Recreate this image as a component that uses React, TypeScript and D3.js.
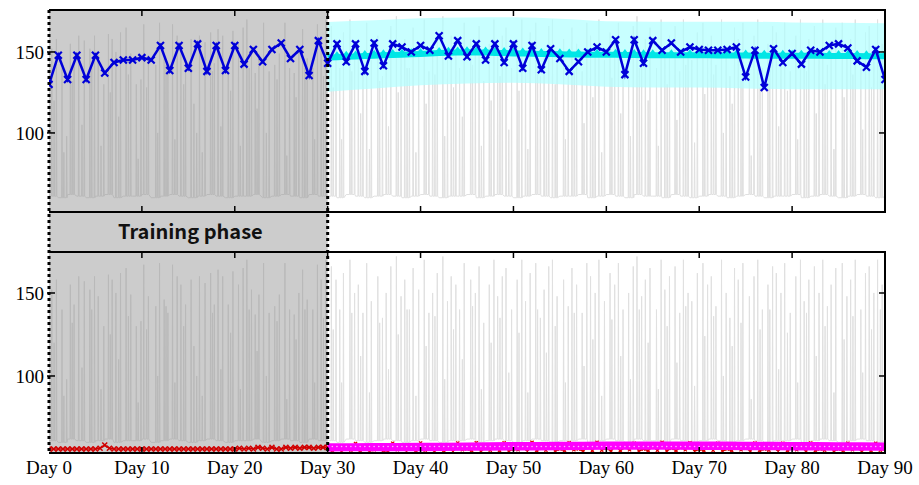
import React, { useEffect } from 'react';
import * as d3 from 'd3';

// daily observed values (top panel, blue), day 0..90
const blueValues = [
  130, 148, 133, 148, 133, 148, 137, 143.5, 145, 145,
  146.5, 145, 154, 138.5, 154, 140, 155, 138, 154, 138.5,
  154, 142.5, 151.5, 144, 151.5, 155.5, 146, 151.5, 135.5, 157,
  143, 155, 144, 155, 138, 155.5, 141.5, 155, 153, 150,
  154, 151, 160, 147.5, 157, 147, 155, 145, 155, 143.5,
  155, 140, 154, 139, 152, 146, 138, 144, 150, 153,
  150, 157.5, 136, 157.5, 143, 157, 151, 155.5, 150, 153,
  151.5, 151, 151, 151.5, 153, 134.5, 151, 128, 152, 143.5,
  149, 142.5, 151, 150, 154, 155, 152.5, 144.5, 140.5, 151.5,
  133,
];

// forecast mean (cyan), day 30..90
const cyanValues = [
  146.5, 146.8, 147, 147.2, 147.5, 147.6, 147.9, 148.1, 148.3, 148.6,
  148.8, 149, 149.3, 149.5, 149.7, 149.8, 149.7, 149.6, 149.4, 149.3,
  149.1, 149, 148.9, 148.8, 148.7, 148.6, 148.5, 148.4, 148.3, 148.3,
  148.2, 148.2, 148.1, 148.1, 148, 148, 148, 148, 147.9, 147.9,
  147.9, 147.9, 147.8, 147.8, 147.8, 147.8, 147.7, 147.7, 147.7, 147.7,
  147.6, 147.6, 147.6, 147.6, 147.5, 147.5, 147.5, 147.5, 147.4, 147.4,
  147.4,
];

// forecast interval (light cyan), every 5 days from day 30
const bandDays = [30, 35, 40, 45, 50, 55, 60, 65, 70, 75, 80, 85, 90];
const cyanUpper = [168.5, 169.5, 170.8, 171.2, 171.4, 170.5, 169, 168.7, 168.7, 168.7, 168.2, 168, 167.7];
const cyanLower = [125.5, 127.5, 129.5, 130.5, 131, 130, 128.5, 128, 128, 127.5, 127, 127, 127];

// bottom panel: observed (red), every half day 0..30 then 30.5..90
const redTrain = [
  56, 56, 56, 56, 56, 56, 56, 56, 56, 56,
  56, 56.5, 58.4, 56.5, 56, 56, 56, 56, 56, 56,
  56, 56, 56, 56, 56, 56, 56, 56, 56, 56,
  56, 56, 56, 56, 56, 56, 56, 56, 56, 56,
  56, 56.5, 56, 56.5, 56, 57, 56.5, 56, 57, 56,
  56, 57, 56.5, 57, 56.5, 57, 57, 56.5, 57, 57,
  57,
];
const redTest = [
  55, 56, 54.8, 57, 55.2, 59.3, 55, 56.5, 54.8, 55.5,
  57, 55, 54.8, 59.5, 55.5, 56, 54.7, 57.5, 55, 59.6,
  55.2, 56, 54.8, 58, 55, 57, 54.6, 59.6, 55.5, 56,
  55, 59.8, 54.8, 56.5, 55.2, 57.5, 55, 59.7, 54.8, 56,
  55.5, 57, 54.7, 60, 55, 56.5, 55.2, 58.5, 54.8, 56,
  55, 59.8, 55.5, 56, 54.8, 57.5, 55, 60, 55.2, 56.5,
  54.8, 58, 55, 57, 55.5, 59.5, 54.8, 56, 55, 57.5,
  55.2, 60, 54.8, 56.5, 55, 57, 55.5, 59.8, 54.7, 56,
  55, 57.5, 55.2, 59.5, 54.8, 56, 55, 58, 55.5, 56.5,
  54.8, 59.6, 55, 56, 55.2, 57, 54.7, 59.5, 55, 56.5,
  55.5, 57, 54.8, 59.6, 55, 56, 55.2, 58.5, 54.8, 56,
  55, 59.5, 55.5, 56.5, 54.8, 57, 55, 59.4, 55.2, 56,
];

// forecast (magenta), every 5 days from day 30
const magentaUpper = [59.4, 59.6, 59.8, 60, 60.2, 60.4, 60.6, 60.6, 60.5, 60.4, 60.2, 60.1, 60];
const magentaLower = [54.5, 54.6, 54.7, 54.9, 55.1, 55.3, 55.5, 55.5, 55.4, 55.3, 55.1, 55, 54.9];

// raw signal (gray): daily baseline + spikes [day, peak]
const baseline = [
  61, 60, 62, 61, 60, 61, 62, 60, 61, 61,
  62, 60, 61, 62, 61, 60, 61, 62, 61, 60,
  61, 61, 62, 60, 61, 62, 61, 60, 62, 61,
  61, 60, 62, 61, 60, 61, 62, 61, 60, 61,
  62, 61, 60, 61, 61, 62, 60, 61, 62, 61,
  60, 61, 62, 61, 60, 61, 61, 62, 60, 61,
  62, 61, 60, 62, 61, 61, 60, 62, 61, 60,
  61, 62, 61, 60, 61, 62, 61, 60, 61, 61,
  62, 60, 61, 62, 61, 60, 61, 62, 61, 60,
  61,
];
const spikes: [number, number][] = [
  [0.3, 152], [0.8, 158], [1.4, 140], [1.9, 98], [2.3, 155], [2.7, 143], [3.2, 160], [3.8, 157],
  [4.4, 152], [4.9, 160], [5.3, 148], [5.9, 130], [6.4, 161], [6.8, 158], [7.2, 150], [7.7, 162],
  [8.3, 165], [8.8, 149], [9.4, 130], [9.9, 133], [10.2, 167], [10.7, 148], [11.5, 142], [11.9, 168],
  [12.4, 146], [12.8, 138], [13.3, 167], [13.8, 160], [14.2, 155], [14.7, 143], [15.3, 158], [15.9, 100],
  [16.2, 160], [16.8, 156], [17.4, 162], [17.8, 143], [18.2, 164], [18.7, 160], [19.3, 143], [19.8, 163],
  [20.4, 155], [20.9, 165], [21.3, 170], [21.8, 152], [22.2, 137], [22.6, 149], [23.1, 168], [23.7, 138],
  [24.3, 142], [24.8, 149], [25.4, 168], [25.9, 140], [26.4, 137], [26.9, 150], [27.3, 164], [27.8, 146],
  [28.4, 140], [28.9, 167], [29.3, 158], [29.8, 170],
  [30.4, 166], [30.9, 158], [31.3, 140], [31.7, 162], [32.4, 170], [32.9, 150], [33.3, 155], [33.8, 138],
  [34.2, 168], [34.7, 145], [35.4, 160], [35.9, 135], [36.3, 150], [36.8, 166], [37.4, 172], [37.9, 148],
  [38.3, 158], [38.8, 140], [39.2, 165], [39.8, 152], [40.4, 170], [40.9, 138], [41.3, 150], [41.8, 162],
  [42.4, 172], [42.9, 145], [43.3, 160], [43.8, 155], [44.2, 140], [44.7, 168], [45.4, 158], [45.9, 150],
  [46.3, 166], [46.8, 132], [47.4, 155], [47.9, 170], [48.3, 148], [48.8, 160], [49.2, 165], [49.8, 140],
  [50.4, 158], [50.9, 170], [51.3, 145], [51.8, 162], [52.4, 168], [52.9, 135], [53.3, 152], [53.8, 166],
  [54.2, 170], [54.7, 148], [55.4, 158], [55.9, 142], [56.3, 165], [56.8, 155], [57.4, 138], [57.9, 168],
  [58.3, 160], [58.8, 150], [59.2, 170], [59.8, 145], [60.4, 162], [60.9, 155], [61.3, 168], [61.8, 140],
  [62.4, 150], [62.9, 166], [63.3, 172], [63.8, 148], [64.2, 158], [64.7, 165], [65.4, 140], [65.9, 170],
  [66.3, 152], [66.8, 160], [67.4, 166], [67.9, 138], [68.3, 170], [68.8, 150], [69.2, 145], [69.8, 162],
  [70.4, 168], [70.9, 155], [71.3, 160], [71.8, 142], [72.4, 170], [72.9, 150], [73.3, 135], [73.8, 165],
  [74.2, 158], [74.7, 168], [75.4, 148], [75.9, 160], [76.3, 170], [76.8, 140], [77.4, 155], [77.9, 166],
  [78.3, 162], [78.8, 150], [79.2, 168], [79.8, 138], [80.4, 160], [80.9, 170], [81.3, 145], [81.8, 158],
  [82.4, 166], [82.9, 150], [83.3, 170], [83.8, 142], [84.2, 155], [84.7, 165], [85.4, 168], [85.9, 148],
  [86.3, 158], [86.8, 170], [87.4, 140], [87.9, 162], [88.3, 166], [88.8, 150], [89.2, 170], [89.7, 155],
];
// smaller excursions of the raw signal [day, peak]
const minorSpikes: [number, number][] = [
  [0.55, 120], [1.6, 88], [2.5, 132], [3.55, 105], [4.6, 140], [5.6, 92], [6.6, 125], [7.5, 110],
  [8.55, 136], [9.6, 84], [10.5, 128], [11.7, 100], [12.6, 142], [13.55, 96], [14.5, 130], [15.6, 118],
  [16.5, 88], [17.6, 138], [18.5, 104], [19.55, 126], [20.6, 92], [21.55, 140], [22.4, 115], [23.4, 100],
  [24.55, 133], [25.6, 86], [26.6, 122], [27.55, 140], [28.6, 96], [29.55, 135],
  [30.6, 128], [31.5, 96], [32.6, 138], [33.55, 112], [34.5, 90], [35.6, 132], [36.55, 104], [37.6, 125],
  [38.55, 140], [39.5, 88], [40.6, 118], [41.55, 136], [42.6, 98], [43.55, 128], [44.5, 110], [45.6, 142],
  [46.55, 92], [47.6, 120], [48.55, 135], [49.5, 102], [50.6, 126], [51.55, 90], [52.6, 140], [53.55, 114],
  [54.5, 130], [55.6, 96], [56.55, 138], [57.6, 106], [58.55, 122], [59.5, 88], [60.6, 134], [61.55, 112],
  [62.6, 98], [63.55, 140], [64.5, 120], [65.6, 92], [66.55, 130], [67.6, 108], [68.55, 142], [69.5, 94],
  [70.6, 124], [71.55, 136], [72.6, 100], [73.55, 118], [74.5, 132], [75.6, 86], [76.55, 128], [77.6, 140],
  [78.55, 104], [79.5, 126], [80.6, 96], [81.55, 138], [82.6, 112], [83.55, 130], [84.5, 90], [85.6, 122],
  [86.55, 136], [87.6, 102], [88.55, 128], [89.5, 140],
];

const dayTicks = [0, 10, 20, 30, 40, 50, 60, 70, 80, 90];
const valueTicks = [100, 150];
const trainEnd = 30;

const W = 919;
const H = 485;
const left = 49;
const right = 885;
const top1 = 10, bottom1 = 212;
const top2 = 252, bottom2 = 453;

const serif = '"Liberation Serif", "Times New Roman", serif';

function xMark(cx: number, cy: number, s: number) {
  return `M${cx - s},${cy - s}L${cx + s},${cy + s}M${cx - s},${cy + s}L${cx + s},${cy - s}`;
}

export default function App() {
  useEffect(() => {
    document.body.style.margin = '0';
  }, []);

  const x = d3.scaleLinear().domain([0, 90]).range([left, right]);
  const yTop = d3.scaleLinear().domain([51.2, 175.9]).range([bottom1, top1]);
  const yBot = d3.scaleLinear().domain([53.6, 174.7]).range([bottom2, top2]);

  // raw gray signal
  const raw: [number, number][] = baseline.map((v, i) => [i, v] as [number, number]);
  [...spikes, ...minorSpikes].forEach(([t, p]) => {
    const b = baseline[Math.floor(t)];
    raw.push([t - 0.04, b], [t, p], [t + 0.04, b]);
  });
  raw.sort((a, b) => a[0] - b[0]);

  const rawLine = (y: d3.ScaleLinear<number, number>) =>
    d3.line<[number, number]>().x(d => x(d[0])).y(d => y(d[1]))(raw) || '';

  const blue = blueValues.map((v, i) => [i, v] as [number, number]);
  const cyan = cyanValues.map((v, i) => [30 + i, v] as [number, number]);
  const redT = redTrain.map((v, i) => [i * 0.5, v] as [number, number]);
  const redF = redTest.map((v, i) => [30.5 + i * 0.5, v] as [number, number]);
  const red = [...redT, ...redF];

  const lineTop = d3.line<[number, number]>().x(d => x(d[0])).y(d => yTop(d[1]));
  const lineBot = d3.line<[number, number]>().x(d => x(d[0])).y(d => yBot(d[1]));

  const cyanBand = d3
    .area<number>()
    .x((_, i) => x(bandDays[i]))
    .y0((_, i) => yTop(cyanLower[i]))
    .y1((_, i) => yTop(cyanUpper[i]))
    .curve(d3.curveMonotoneX)(bandDays) || '';

  const magentaBand = d3
    .area<number>()
    .x((_, i) => x(bandDays[i]))
    .y0((_, i) => yBot(magentaLower[i]))
    .y1((_, i) => yBot(magentaUpper[i]))
    .curve(d3.curveMonotoneX)(bandDays) || '';

  const xTrain = x(trainEnd);

  const panelFrame = (y0: number, y1: number, y: d3.ScaleLinear<number, number>) => (
    <g>
      {dayTicks.slice(1, -1).map(d => (
        <g key={d}>
          <line x1={x(d)} x2={x(d)} y1={y0} y2={y0 + 6} stroke="#000" strokeWidth={1.5} />
          <line x1={x(d)} x2={x(d)} y1={y1} y2={y1 - 6} stroke="#000" strokeWidth={1.5} />
        </g>
      ))}
      {valueTicks.map(v => (
        <g key={v}>
          <line x1={left - 2} x2={left + 6} y1={y(v)} y2={y(v)} stroke="#000" strokeWidth={1.5} />
          <line x1={right} x2={right - 6} y1={y(v)} y2={y(v)} stroke="#000" strokeWidth={1.5} />
          <text x={left - 5} y={y(v)} dy="0.35em" textAnchor="end" fontFamily={serif} fontSize={19}>
            {v}
          </text>
        </g>
      ))}
      <line x1={left} x2={right + 1} y1={y0} y2={y0} stroke="#000" strokeWidth={2} />
      <line x1={left} x2={right + 1} y1={y1} y2={y1} stroke="#000" strokeWidth={2} />
      <line x1={right} x2={right} y1={y0} y2={y1} stroke="#000" strokeWidth={2} />
    </g>
  );

  return (
    <svg width={W} height={H} style={{ display: 'block', background: '#fff' }}>
      <defs>
        <clipPath id="clipTop">
          <rect x={left} y={top1} width={right - left} height={bottom1 - top1} />
        </clipPath>
        <clipPath id="clipBot">
          <rect x={left} y={top2} width={right - left} height={bottom2 - top2} />
        </clipPath>
      </defs>

      {/* raw signal */}
      <path d={rawLine(yTop)} fill="none" stroke="#e0e0e0" strokeWidth={1} clipPath="url(#clipTop)" />
      <path d={rawLine(yBot)} fill="none" stroke="#e0e0e0" strokeWidth={1} clipPath="url(#clipBot)" />

      {/* training phase shading */}
      <rect x={left} y={top1} width={xTrain - left} height={bottom2 - top1} fill="#808080" fillOpacity={0.4} />

      {/* top panel */}
      <g clipPath="url(#clipTop)">
        <path d={cyanBand} fill="#b0ffff" fillOpacity={0.7} />
        <path d={lineTop(cyan) || ''} fill="none" stroke="#00e6e6" strokeWidth={6} />
        {cyan.map(([d, v]) => (
          <path
            key={d}
            d={`M${x(d) - 3},${yTop(v) - 2}L${x(d)},${yTop(v) - 6}L${x(d) + 3},${yTop(v) - 2}Z`}
            fill="#00e6e6"
          />
        ))}
        <path d={lineTop(blue) || ''} fill="none" stroke="#0000d8" strokeWidth={2.5} />
        {blue.map(([d, v]) => (
          <path key={d} d={xMark(x(d), yTop(v), 3.5)} stroke="#0000d8" strokeWidth={2.2} />
        ))}
      </g>

      {/* bottom panel */}
      <g clipPath="url(#clipBot)">
        <path d={lineBot(red) || ''} fill="none" stroke="#d00000" strokeWidth={1.5} />
        {redT.map(([d, v]) => (
          <path key={d} d={xMark(x(d), yBot(v), 2.5)} stroke="#d00000" strokeWidth={1.5} />
        ))}
        {redF.map(([d, v]) => (
          <path key={d} d={xMark(x(d), yBot(v), 1.6)} stroke="#e00000" strokeWidth={1.2} />
        ))}
        <path d={magentaBand} fill="#ff00ff" />
        {redF.map(([d]) => (
          <circle key={d} cx={x(d)} cy={yBot(57.5)} r={0.8} fill="#ffb0ff" />
        ))}
      </g>

      {panelFrame(top1, bottom1, yTop)}
      {panelFrame(top2, bottom2, yBot)}

      {/* training phase label */}
      <text
        x={(left + xTrain) / 2 + 2}
        y={(bottom1 + top2) / 2}
        dy="0.36em"
        textAnchor="middle"
        fontFamily='"Noto Sans CJK JP", "Noto Sans", sans-serif'
        fontWeight="bold"
        fontSize={20}
        fill="#111"
      >
        Training phase
      </text>

      {/* dotted boundaries */}
      <line x1={left} x2={left} y1={top1} y2={bottom2} stroke="#000" strokeWidth={3} strokeDasharray="3,3" />
      <line x1={xTrain} x2={xTrain} y1={top1} y2={bottom2} stroke="#000" strokeWidth={3} strokeDasharray="3,3" />

      {/* x labels */}
      {dayTicks.map(d => (
        <text key={d} x={x(d)} y={474} textAnchor="middle" fontFamily={serif} fontSize={19}>
          {`Day ${d}`}
        </text>
      ))}
    </svg>
  );
}
